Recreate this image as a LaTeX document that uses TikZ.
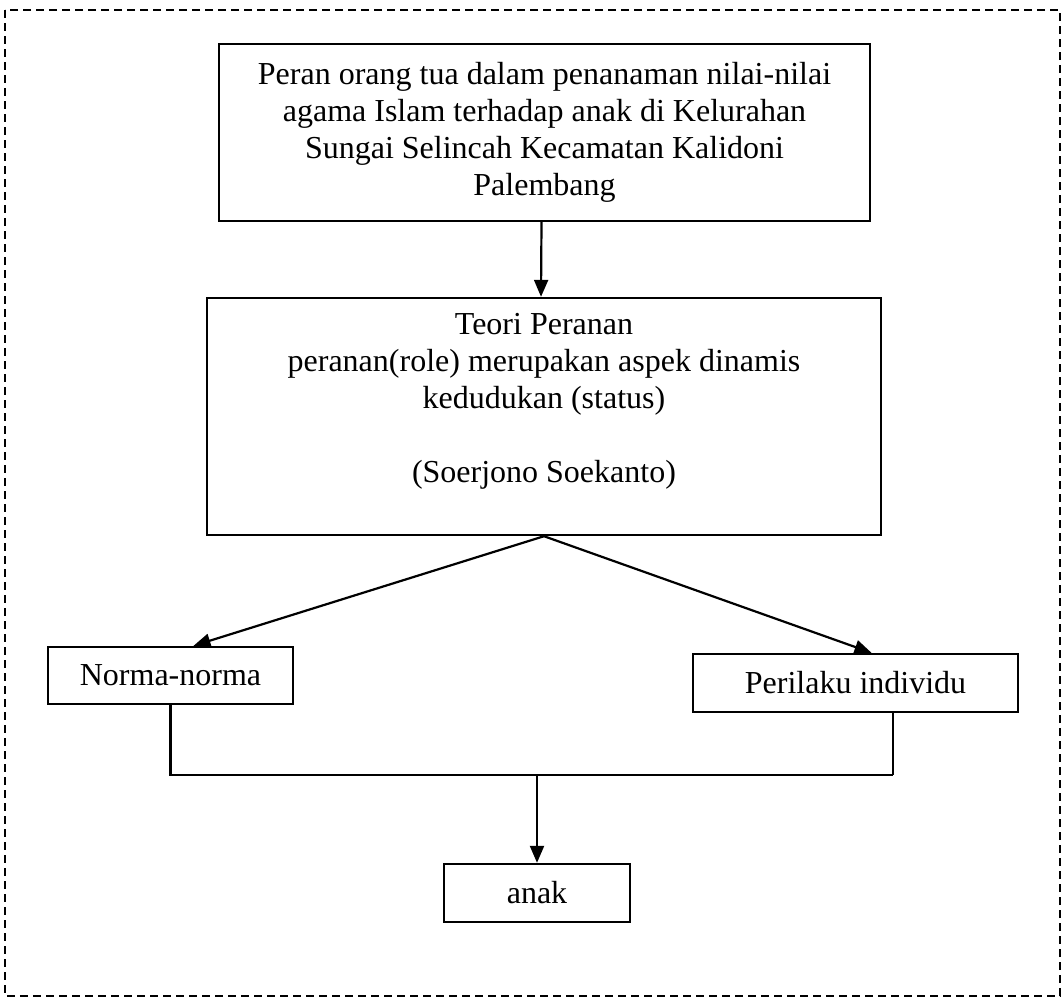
\documentclass[tikz,border=0pt]{standalone}
\usepackage{fontspec}
\setmainfont{Liberation Serif}
\usetikzlibrary{arrows.meta}
\begin{document}
\begin{tikzpicture}[x=1pt,y=-1pt,
    box/.style={draw,line width=2.4pt,align=center,inner sep=0pt,
      font=\fontsize{32}{37}\selectfont},
    arr/.style={line width=2.2pt,-{Triangle[length=17pt,width=14pt]}}]
      \useasboundingbox (0,0) rectangle (1064,1007);
      \draw[line width=2.4pt,dash pattern=on 8pt off 5pt] (5,10) rectangle (1060,996);
      \draw
        (544.5,132.5) node[box,minimum width=651pt,minimum height=177pt] (peran)
          {Peran orang tua dalam penanaman nilai-nilai\\ agama Islam terhadap anak di Kelurahan\\
           Sungai Selincah Kecamatan Kalidoni\\ Palembang}
        (544,416.5) node[box,minimum width=674pt,minimum height=237pt] (teori)
          {Teori Peranan\\ peranan(role) merupakan aspek dinamis\\ kedudukan (status)\\
           \mbox{}\\ (Soerjono Soekanto)\\ \mbox{}}
        (170.5,675.5) node[box,minimum width=245pt,minimum height=57pt] (norma){Norma-norma}
        (855.5,683) node[box,minimum width=325pt,minimum height=58pt] (perilaku){Perilaku individu}
        (537,893) node[box,minimum width=186pt,minimum height=58pt] (anak){anak};
      \coordinate (gabung) at (537,775);
      \coordinate (kanan) at (893,775);
      \begin{scope}[arr]
        \draw ([xshift=-3pt]peran.south) to ([xshift=-3pt]teori.north);
        \draw (teori.south) to ([xshift=23pt]norma.north);
        \draw (teori.south) to ([xshift=16pt]perilaku.north);
        \draw (gabung) to (anak);
      \end{scope}
      \begin{scope}[line width=2.2pt]
        \draw (norma.south) |- (kanan);
        \draw (kanan) to (kanan |- perilaku.south);
      \end{scope}
    \end{tikzpicture}
\end{document}
